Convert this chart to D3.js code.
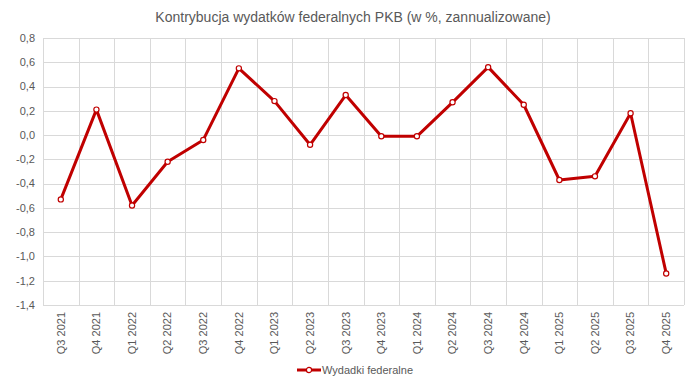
<!DOCTYPE html>
<html lang="pl">
<head>
<meta charset="utf-8">
<title>Kontrybucja wydatków federalnych</title>
<script src="https://cdn.jsdelivr.net/npm/d3@7"></script>
<style>
  body { margin: 0; background: #fff; }
  svg text { font-family: "Liberation Sans", Arial, sans-serif; fill: #595959; }
</style>
</head>
<body>
<div id="chart"></div>
<script>
var quarters = ["Q3 2021", "Q4 2021", "Q1 2022", "Q2 2022", "Q3 2022", "Q4 2022",
  "Q1 2023", "Q2 2023", "Q3 2023", "Q4 2023", "Q1 2024", "Q2 2024",
  "Q3 2024", "Q4 2024", "Q1 2025", "Q2 2025", "Q3 2025", "Q4 2025"];
var federalne = [-0.53, 0.21, -0.58, -0.22, -0.04, 0.55, 0.28, -0.08, 0.33,
  -0.01, -0.01, 0.27, 0.56, 0.25, -0.37, -0.34, 0.18, -1.14];
var yTicks = [-1.4, -1.2, -1.0, -0.8, -0.6, -0.4, -0.2, 0.0, 0.2, 0.4, 0.6, 0.8];

var W = 697, H = 382;
var m = { top: 38, right: 13, bottom: 77, left: 43 };

var svg = d3.select("#chart").append("svg").attr("width", W).attr("height", H);

var x = d3.scaleBand().domain(quarters).range([m.left, W - m.right]);
var y = d3.scaleLinear().domain([-1.4, 0.8]).range([H - m.bottom, m.top]);
var fmt = function (v) { return d3.format(".1f")(v).replace(".", ",").replace("−", "-"); };

// grid
svg.append("g").selectAll("line").data(yTicks).enter().append("line")
  .attr("x1", m.left).attr("x2", W - m.right)
  .attr("y1", function (d) { return Math.round(y(d)) + 0.5; })
  .attr("y2", function (d) { return Math.round(y(d)) + 0.5; })
  .attr("stroke", "#d9d9d9");
var edges = quarters.map(function (q) { return x(q); }).concat([W - m.right]);
svg.append("g").selectAll("line").data(edges).enter().append("line")
  .attr("x1", function (d) { return Math.round(d) + 0.5; })
  .attr("x2", function (d) { return Math.round(d) + 0.5; })
  .attr("y1", m.top).attr("y2", H - m.bottom)
  .attr("stroke", "#d9d9d9");

// y axis labels
svg.append("g").selectAll("text").data(yTicks).enter().append("text")
  .attr("x", m.left - 8).attr("y", function (d) { return y(d); })
  .attr("dy", "0.35em").attr("text-anchor", "end")
  .style("font-size", "11px").text(fmt);

// x axis labels
svg.append("g").selectAll("text").data(quarters).enter().append("text")
  .attr("transform", function (d) {
    return "translate(" + (x(d) + x.bandwidth() / 2) + "," + (H - m.bottom + 7) + ") rotate(-90)";
  })
  .attr("dy", "0.35em").attr("text-anchor", "end")
  .style("font-size", "11px").text(function (d) { return d; });

// line
var line = d3.line()
  .x(function (d, i) { return x(quarters[i]) + x.bandwidth() / 2; })
  .y(function (d) { return y(d); });
svg.append("path").datum(federalne).attr("d", line)
  .attr("fill", "none").attr("stroke", "#c00000").attr("stroke-width", 3)
  .attr("stroke-linejoin", "round");
svg.append("g").selectAll("circle").data(federalne).enter().append("circle")
  .attr("cx", function (d, i) { return x(quarters[i]) + x.bandwidth() / 2; })
  .attr("cy", function (d) { return y(d); })
  .attr("r", 2.6).attr("fill", "#fff").attr("stroke", "#c00000").attr("stroke-width", 1.2);

// title
svg.append("text").attr("x", 353).attr("y", 22).attr("text-anchor", "middle")
  .style("font-size", "14px").text("Kontrybucja wydatków federalnych PKB (w %, zannualizowane)");

// legend
var lg = svg.append("g").attr("transform", "translate(297,370)");
lg.append("line").attr("x1", 0).attr("x2", 24).attr("stroke", "#c00000").attr("stroke-width", 3);
lg.append("circle").attr("cx", 12).attr("r", 2.6).attr("fill", "#fff")
  .attr("stroke", "#c00000").attr("stroke-width", 1.2);
lg.append("text").attr("x", 25).attr("dy", "0.35em").style("font-size", "11px").text("Wydadki federalne");
</script>
</body>
</html>
